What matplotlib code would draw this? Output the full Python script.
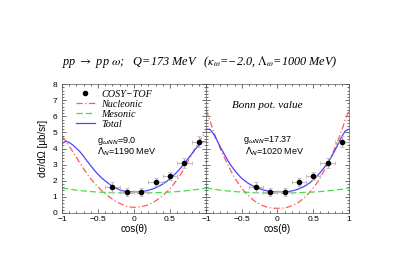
import matplotlib
matplotlib.use("Agg")
import matplotlib.pyplot as plt
from matplotlib.ticker import MultipleLocator

# data points (COSY-TOF), same in both panels
data_x = [-0.3, -0.1, 0.1, 0.3, 0.5, 0.7, 0.9]
data_y = [1.63, 1.30, 1.30, 1.90, 2.32, 3.10, 4.42]
data_xerr = [0.1, 0.1, 0.1, 0.1, 0.1, 0.1, 0.1]
data_yerr = [0.3, 0.25, 0.25, 0.25, 0.25, 0.3, 0.35]

# model curves
curve_x = [-1.00, -0.95, -0.90, -0.85, -0.80, -0.75, -0.70, -0.65, -0.60, -0.55,
           -0.50, -0.45, -0.40, -0.35, -0.30, -0.25, -0.20, -0.15, -0.10, -0.05,
           0.00, 0.05, 0.10, 0.15, 0.20, 0.25, 0.30, 0.35, 0.40, 0.45,
           0.50, 0.55, 0.60, 0.65, 0.70, 0.75, 0.80, 0.85, 0.90, 0.95, 1.00]

left_total = [4.32, 4.45, 4.38, 4.22, 4.02, 3.80, 3.52, 3.22, 2.93, 2.65,
              2.40, 2.18, 1.99, 1.82, 1.66, 1.54, 1.44, 1.37, 1.33, 1.31,
              1.30, 1.30, 1.32, 1.36, 1.41, 1.48, 1.56, 1.67, 1.80, 1.95,
              2.12, 2.33, 2.55, 2.80, 3.08, 3.37, 3.66, 3.95, 4.20, 4.42, 4.40]
left_nucl = [4.75, 4.50, 4.15, 3.80, 3.45, 3.10, 2.75, 2.42, 2.12, 1.85,
             1.62, 1.40, 1.20, 1.02, 0.86, 0.72, 0.60, 0.50, 0.42, 0.37,
             0.35, 0.36, 0.39, 0.44, 0.52, 0.62, 0.75, 0.90, 1.08, 1.28,
             1.50, 1.78, 2.08, 2.42, 2.80, 3.20, 3.60, 4.00, 4.40, 4.75, 5.05]
right_total = [5.20, 5.20, 4.95, 4.55, 4.10, 3.70, 3.30, 2.95, 2.65, 2.38,
               2.15, 1.97, 1.82, 1.70, 1.60, 1.51, 1.44, 1.38, 1.34, 1.31,
               1.30, 1.30, 1.31, 1.33, 1.37, 1.42, 1.50, 1.60, 1.72, 1.87,
               2.05, 2.27, 2.52, 2.80, 3.10, 3.45, 3.85, 4.30, 4.75, 5.10, 5.20]
right_nucl = [6.40, 5.80, 5.15, 4.55, 4.00, 3.50, 3.05, 2.60, 2.20, 1.85,
              1.55, 1.28, 1.05, 0.85, 0.68, 0.55, 0.45, 0.37, 0.32, 0.30,
              0.29, 0.30, 0.32, 0.37, 0.45, 0.55, 0.68, 0.85, 1.05, 1.28,
              1.55, 1.85, 2.20, 2.60, 3.05, 3.50, 4.00, 4.55, 5.15, 5.80, 6.40]

meso_x = [-1.0, -0.9, -0.8, -0.7, -0.6, -0.5, -0.4, -0.3, -0.2, -0.1, 0.0,
          0.1, 0.2, 0.3, 0.4, 0.5, 0.6, 0.7, 0.8, 0.9, 1.0]
meso_y = [1.55, 1.48, 1.42, 1.37, 1.33, 1.30, 1.28, 1.26, 1.25, 1.24, 1.24,
          1.24, 1.25, 1.26, 1.28, 1.30, 1.33, 1.37, 1.42, 1.48, 1.55]

legend_labels = ["COSY−TOF", "Nucleonic", "Mesonic", "Total"]

RED = "#ff5a5a"
GREEN = "#44dd44"
BLUE = "#4646ff"
SERIF = "Liberation Serif"
SANS = "Liberation Sans"

fig = plt.figure(figsize=(4.09, 2.73), dpi=100)
ax1 = fig.add_axes([0.1516, 0.2198, 0.352, 0.472])
ax2 = fig.add_axes([0.5036, 0.2198, 0.3496, 0.472])

handles = []
panels = [(ax1, left_total, left_nucl), (ax2, right_total, right_nucl)]
for ax, tot, nucl in panels:
    pts = ax.errorbar(data_x, data_y, xerr=data_xerr, yerr=data_yerr, fmt="o",
                      color="black", ms=3, ecolor="#bbbbbb", elinewidth=0.8,
                      capsize=1.2, capthick=0.6, zorder=5)
    ln_n, = ax.plot(curve_x, nucl, color=RED, lw=0.9, dashes=(5, 2, 1, 2))
    ln_m, = ax.plot(meso_x, meso_y, color=GREEN, lw=0.9, dashes=(5, 2.5))
    ln_t, = ax.plot(curve_x, tot, color=BLUE, lw=0.9)
    if not handles:
        handles = [pts[0], ln_n, ln_m, ln_t]
    ax.set_xlim(-1, 1)
    ax.set_ylim(0, 8)
    ax.xaxis.set_major_locator(MultipleLocator(0.5))
    ax.xaxis.set_minor_locator(MultipleLocator(0.1))
    ax.yaxis.set_major_locator(MultipleLocator(1))
    ax.yaxis.set_minor_locator(MultipleLocator(0.2))
    ax.tick_params(which="both", direction="in", top=True, right=True,
                   labelsize=6, width=0.4, pad=2)
    ax.tick_params(axis="y", pad=3.5)
    ax.tick_params(which="major", length=3)
    ax.tick_params(which="minor", length=1.5)
    for s in ax.spines.values():
        s.set_linewidth(0.5)
        s.set_color("#555555")
    ax.set_xlabel("cos(θ)", fontsize=7, family=SANS, labelpad=1)

ax1.set_xticks([-1, -0.5, 0, 0.5, 1])
ax1.set_xticklabels(["−1", "−0.5", "0", "0.5", ""])
ax2.set_xticks([-1, -0.5, 0, 0.5, 1])
ax2.set_xticklabels(["−1", "−0.5", "0", "0.5", "1"])
ax2.tick_params(labelleft=False)
for ax in (ax1, ax2):
    for lab in ax.get_xticklabels() + ax.get_yticklabels():
        lab.set_family(SANS)
ax1.set_ylabel("dσ/dΩ [μb/sr]", fontsize=7, family=SANS, labelpad=3)

ax1.legend(handles, legend_labels, loc="upper left",
           bbox_to_anchor=(0.095, 0.955), frameon=False,
           prop={"family": SERIF, "style": "italic", "size": 7.3},
           handlelength=1.9, labelspacing=0.08, handletextpad=0.6,
           borderaxespad=0.0, borderpad=0.0)

ax1.text(-0.52, 4.5, r"g$_{\omega NN}$=9.0", fontsize=6.5, family=SANS,
         math_fontfamily="dejavusans", va="center")
ax1.text(-0.52, 3.8, r"$\Lambda_N$=1190 MeV", fontsize=6.5, family=SANS,
         math_fontfamily="dejavusans", va="center")
ax2.text(-0.64, 6.7, "Bonn pot. value", fontsize=8, family=SERIF,
         style="italic", va="center")
ax2.text(-0.48, 4.55, r"g$_{\omega NN}$=17.37", fontsize=6.5, family=SANS,
         math_fontfamily="dejavusans", va="center")
ax2.text(-0.46, 3.8, r"$\Lambda_N$=1020 MeV", fontsize=6.5, family=SANS,
         math_fontfamily="dejavusans", va="center")

fig.text(0.152, 0.773,
         r"pp $\rightarrow$ pp $\omega$;   Q=173 MeV   ($\kappa_\omega$=−2.0, $\Lambda_\omega$=1000 MeV)",
         fontsize=8.8, family=SERIF, style="italic", math_fontfamily="stix",
         va="center", ha="left")

fig.savefig("out.png", dpi=100)
